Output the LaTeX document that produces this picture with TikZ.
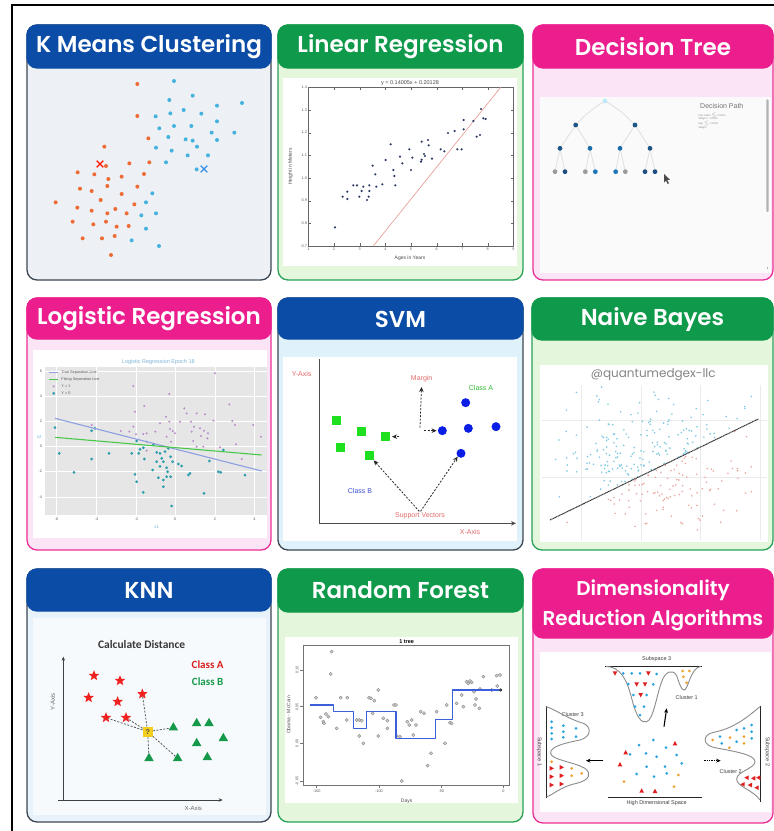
\documentclass[tikz,border=0pt]{standalone}
\usepackage{fontspec}
\setmainfont{Liberation Sans}
% heading face: a semibold cut of Poppins where one is installed
\IfFontExistsTF{Poppins SemiBold}{\newfontfamily\headfont{Poppins SemiBold}\def\headwt{}\def\headsz{23}}{%
  \IfFontExistsTF{Poppins Medium}{\newfontfamily\headfont{Poppins Medium}\def\headwt{}\def\headsz{23}}{%
    \newfontfamily\headfont{Poppins}\def\headwt{\bfseries}\def\headsz{22}}}
\newfontfamily\markfont{Poppins}
\newfontfamily\calfont{Carlito}
\usetikzlibrary{arrows.meta,shapes.geometric}

% header / frame colours
\definecolor{hblue}{HTML}{0B4CA6}
\definecolor{hgreen}{HTML}{0F9A4B}
\definecolor{hpink}{HTML}{EC1E8E}
\definecolor{bline}{HTML}{3D4753}
\definecolor{gline}{HTML}{27A257}
\definecolor{pline}{HTML}{EC2F96}
\definecolor{kbody}{HTML}{EDF1F5}
\definecolor{sbody}{HTML}{DFF1FA}
\definecolor{nbody}{HTML}{E8F2FA}
\definecolor{gbody}{HTML}{E4F7DC}
\definecolor{pbody}{HTML}{FBE4F6}
% plot colours
\definecolor{kmorange}{HTML}{EE6B35}
\definecolor{kmcyan}{HTML}{45B3DE}
\definecolor{lrdot}{HTML}{2B3A67}
\definecolor{lrline}{HTML}{E8A29C}
\definecolor{dtdark}{HTML}{1F4F7E}
\definecolor{dtmid}{HTML}{1A76B8}
\definecolor{dtgray}{HTML}{9A9A9A}
\definecolor{lgbg}{HTML}{E6E6E6}
\definecolor{lgtrue}{HTML}{8C9FE0}
\definecolor{lgfit}{HTML}{48C848}
\definecolor{lgpurple}{HTML}{B98BCB}
\definecolor{lgteal}{HTML}{2A9DAA}
\definecolor{lgtitle}{HTML}{7DB3D8}
\definecolor{svmred}{HTML}{E46A6A}
\definecolor{svmgreen}{HTML}{2EB82E}
\definecolor{svmblue}{HTML}{3A4FD0}
\definecolor{sqgreen}{HTML}{1FE01F}
\definecolor{cblue}{HTML}{0A1EE6}
\definecolor{nbblue}{HTML}{7CC8E2}
\definecolor{nbred}{HTML}{EBA8A0}
\definecolor{knnred}{HTML}{F0211F}
\definecolor{knngreen}{HTML}{16994A}
\definecolor{knnq}{HTML}{F2CF1F}
\definecolor{rfblue}{HTML}{3A5FD9}
\definecolor{drblue}{HTML}{2BA3E0}
\definecolor{drorange}{HTML}{F0A030}
\definecolor{drred}{HTML}{E02020}

\tikzset{
  zoomed/.style={x=0.33333pt,y=-0.33333pt},
  cardbody/.style={rounded corners=10pt,line width=1.3pt},
  cardhead/.style={rounded corners=10pt,line width=1.3pt},
  cardtitle/.style={text=white,font=\headfont\headwt\fontsize{\headsz}{30}\selectfont,inner sep=0pt},
  ticklbl/.style={font=\fontsize{3.8}{4}\selectfont,text=black!65,inner sep=0.6pt},
  smalllbl/.style={font=\fontsize{5}{6}\selectfont,text=black!70,inner sep=0.5pt},
  svmlbl/.style={font=\fontsize{7}{8}\selectfont,inner sep=0.5pt},
  svarrow/.style={black!85,line width=0.8pt,dash pattern=on 2pt off 1.5pt,-{Stealth[length=5pt,width=4.5pt]}},
  sqB/.style={rectangle,fill=sqgreen,minimum size=9pt,inner sep=0pt},
  cA/.style={circle,fill=cblue,minimum size=9pt,inner sep=0pt},
  knnstar/.style={star,star points=5,star point ratio=2.3,minimum size=11pt,fill=knnred,inner sep=0pt},
  knntri/.style={regular polygon,regular polygon sides=3,minimum size=11pt,fill=knngreen,inner sep=0pt},
  knnaxis/.style={black!75,line width=0.9pt},
  drlbl/.style={font=\fontsize{5.5}{6}\selectfont,text=black!75,inner sep=0.5pt},
  drcurve/.style={black!45,line width=0.9pt},
}

% card: x1, y1, x2, y2, header bottom, header colour, body colour, outline colour
\newcommand\mlcard[8]{%
  \draw[cardbody,fill=#7,draw=#8] (#1,#2) rectangle (#3,#4);
  \filldraw[cardhead,fill=#6,draw=#6] (#1,#2) rectangle (#3,#5);
}

\begin{document}
\begin{tikzpicture}[x=1pt,y=-1pt]
\useasboundingbox (0,0) rectangle (774,831);
\fill[white] (0,0) rectangle (774,831);
\draw[line width=2pt] (11.5,831) -- (11.5,5) -- (774,5);

% ---------------- cards ----------------
\mlcard{27}{25}{271}{280}{68}{hblue}{kbody}{bline}
\node[cardtitle] (tkm) at (149,47) {K Means Clustering};
\mlcard{278}{25}{523}{280}{68}{hgreen}{gbody}{gline}
\node[cardtitle] (tlr) at (400.5,47) {Linear Regression};
\mlcard{533}{25}{773}{280}{68}{hpink}{pbody}{pline}
\node[cardtitle] (tdt) at (653,47) {Decision Tree};

\mlcard{27}{298}{271}{550}{339}{hpink}{pbody}{pline}
\node[cardtitle] (tlg) at (149,319) {Logistic Regression};
\mlcard{278}{298}{523}{550}{339}{hblue}{sbody}{bline}
\node[cardtitle] (tsvm) at (400.5,319) {SVM};
\mlcard{532}{298}{773}{550}{340}{hgreen}{gbody}{gline}
\node[cardtitle] (tnb) at (652.5,319) {Naive Bayes};

\mlcard{27}{569}{271}{822}{611}{hblue}{nbody}{bline}
\node[cardtitle] (tknn) at (149,590) {KNN};
\mlcard{278}{569}{523}{822}{612}{hgreen}{gbody}{gline}
\node[cardtitle] (trf) at (400.5,590) {Random Forest};
\mlcard{533}{569}{773}{823}{638}{hpink}{pbody}{pline}
\node[cardtitle,align=center,font=\headfont\headwt\fontsize{20}{30}\selectfont] (tdr) at (653,605) {Dimensionality\\Reduction Algorithms};

% inner plot areas
\fill[white] (283,78) rectangle (517,266);
\fill[black!2] (540,97) rectangle (771,273);
\fill[white] (33,350) rectangle (267,538);
\fill[white] (283,357) rectangle (517,541);
\fill[white] (540,365) rectangle (768,542);
\fill[white!60!nbody] (33,618) rectangle (266,815);
\fill[white] (285,637) rectangle (518,803);
\fill[white] (540,652) rectangle (771,812);

% ---------------- K means ----------------
\begin{scope}[zoomed]
\foreach \x/\y in {412/252,412/348,445/415,313/440,388/490,448/487,318/498,233/517,283/523,325/537,365/530,432/522,240/566,275/573,322/558,412/560,365/582,302/600,167/607,232/623,275/632,322/640,346/627,380/640,403/613,218/665,280/673,318/665,350/680,386/678,248/715,306/715,344/708,333/765}
  \fill[kmorange] (\x,\y) circle (2pt);
\foreach \x/\y in {522/243,508/300,578/287,726/309,651/317,551/330,511/340,467/349,604/341,478/385,522/378,574/378,651/364,635/398,703/398,505/411,557/418,578/422,651/420,468/443,515/452,591/440,563/466,624/466,498/487,590/508,457/580,438/607,468/640,424/646,438/686,395/721,477/738}
  \fill[kmcyan] (\x,\y) circle (2pt);
\draw[red!85!orange,line width=1.3pt] (290,482)--(310,502) (290,502)--(310,482);
\draw[kmcyan!80!blue,line width=1.3pt] (602,497)--(622,517) (602,517)--(622,497);
\end{scope}

% ---------------- linear regression ----------------
\begin{scope}[shift={(270,0)},zoomed]
\draw[black!60,line width=0.4pt] (115,262) rectangle (730,738);
\foreach \v/\yy in {0.7/738,0.8/670,0.9/602,1.0/534,1.1/466,1.2/398,1.3/330,1.4/262}{
  \draw[black!60,line width=0.3pt] (115,\yy) -- ++(8,0) (730,\yy) -- ++(-8,0);
  \node[ticklbl,anchor=east] at (113,\yy) {\v};}
\foreach \v/\xx in {1/115,2/192,3/269,4/346,5/423,6/500,7/577,8/653,9/730}{
  \draw[black!60,line width=0.3pt] (\xx,738) -- ++(0,-8) (\xx,262) -- ++(0,8);
  \node[ticklbl,anchor=north] at (\xx,742) {\v};}
\draw[lrline,line width=0.7pt] (310,738) -- (692,262);
\foreach \x/\y in {195/682,218/590,232/575,232/597,250/556,261/556,268/590,275/573,280/560,291/600,296/590,298/556,298/573,308/497,316/523,319/560,337/553,347/480,362/433,370/510,373/528,376/556,390/470,397/490,418/448,423/510,427/473,453/485,455/479,455/425,462/462,465/468,474/420,476/436,486/476,512/448,523/454,534/399,554/393,562/448,575/448,581/360,581/388,610/363,620/410,630/405,633/327,640/355,647/357}
  \fill[lrdot] (\x,\y) circle (1.2pt);
\node[font=\fontsize{5.5}{6}\selectfont,text=black!70] (lrtitle) at (420,249) {y = 0.14005x + 0.20128};
\node[smalllbl] (lrx) at (420,775) {Ages in Years};
\node[smalllbl,rotate=90] (lry) at (62,500) {Height in Meters};
\end{scope}

% ---------------- decision tree ----------------
\begin{scope}[shift={(520,0)},zoomed]
\coordinate (r) at (255,303);
\coordinate (a) at (167,375); \coordinate (b) at (345,375);
\coordinate (c) at (120,445); \coordinate (d) at (210,445);
\coordinate (e) at (300,445); \coordinate (f) at (390,445);
\draw[black!12,line width=0.8pt] (r) to[bend right=8] (a) (r) to[bend left=8] (b)
  (a) -- (c) (a) -- (d) (b) -- (e) (b) -- (f)
  (c) -- (105,515) (c) -- (135,515) (d) -- (196,515) (d) -- (226,515)
  (e) -- (287,515) (e) -- (316,515) (f) -- (375,515) (f) -- (405,515);
\fill[cyan!25] (r) circle (2.4pt);
\foreach \p in {a,b,c,f} \fill[dtdark!85!dtmid] (\p) circle (2.4pt);
\foreach \p in {d,e} \fill[dtmid!80!dtdark] (\p) circle (2.4pt);
\foreach \x in {105,196,316} \fill[dtgray] (\x,515) circle (2.4pt);
\foreach \x in {135,375,405} \fill[dtdark] (\x,515) circle (2.4pt);
\foreach \x in {226,287} \fill[dtmid] (\x,515) circle (2.4pt);
\fill[black!70] (432,522) -- (432,548) -- (438,542) -- (443,552) -- (447,550) -- (442,540) -- (450,539) -- cycle;
\node[font=\fontsize{7}{8}\selectfont,text=black!55,anchor=west] (dpath) at (530,318) {Decision Path};
\node[font=\fontsize{2.6}{3.3}\selectfont,text=black!45,anchor=north west,align=left,inner sep=0pt] (dinfo) at (535,338)
  {Has Cabin $\le$ 0.5000\\Weight = 1.0000\\Age $\le$ 2.5000\\Weight};
\fill[black!30,rounded corners=1pt] (739,298) rectangle (746,636);
\fill[black!30] (741,800) rectangle (744,808);
\end{scope}

% ---------------- logistic regression ----------------
\begin{scope}[shift={(0,285)},zoomed]
\fill[lgbg] (135,245) rectangle (800,690);
\foreach \xx in {170,290,410,525,645,763} \draw[white,line width=0.4pt] (\xx,245) -- (\xx,690);
\foreach \yy in {258,335,410,485,560,637} \draw[white,line width=0.4pt] (135,\yy) -- (800,\yy);
\foreach \v/\yy in {6/258,4/335,2/410,0/485,-2/560,-4/637}
  \node[ticklbl,anchor=east] at (128,\yy) {\v};
\foreach \v/\xx in {-6/170,-4/290,-2/410,0/525,2/645,4/763}
  \node[ticklbl,anchor=north] at (\xx,697) {\v};
\node[font=\fontsize{5.5}{6}\selectfont,text=lgtitle] (lgtitle) at (475,232) {Logistic Regression Epoch 18};
\node[font=\fontsize{4.5}{5}\selectfont,text=lgtitle] (lgx) at (470,726) {x1};
\node[font=\fontsize{4.5}{5}\selectfont,text=lgtitle] (lgy) at (118,455) {x2};
\foreach \x/\y in {400/303,508/327,645/265,405/380,433/363,553/370,560/385,590/385,615/388,688/358,498/395,508/410,540/410,573/410,640/407,697/408,705/420,760/420,275/420,400/425,480/415,510/432,518/438,582/425,612/437,624/445,362/438,388/440,408/448,430/447,440/445,466/440,500/455,525/445,603/453,622/460,783/455,440/470,460/478,513/470,580/468,590/485,610/485,660/487,708/478,725/522,440/497,575/440,600/430}
  \fill[lgpurple] (\x,\y) circle (1.1pt);
\foreach \x/\y in {165/428,178/505,275/437,285/430,222/562,275/522,327/505,395/505,410/468,420/493,430/488,416/505,433/522,460/480,470/502,480/505,495/500,505/490,470/530,485/520,490/530,500/548,503/560,500/575,512/515,518/530,535/537,545/543,570/565,565/570,405/568,410/590,475/578,490/585,512/575,490/605,430/622,515/663,612/625,628/528,655/560,662/562,735/570,480/544,458/555,670/495}
  \fill[lgteal] (\x,\y) circle (1.5pt);
\draw[lgtrue,line width=1.1pt] (165,400) -- (785,558);
\draw[lgfit,line width=1.1pt] (165,457) -- (785,510);
\draw[lgtrue,line width=0.8pt] (148,262) -- (175,262);
\draw[lgfit,line width=0.8pt] (148,283) -- (175,283);
\fill[lgpurple] (161,304) circle (1.1pt);
\fill[lgteal] (161,325) circle (1.5pt);
\node[ticklbl,anchor=west] (lg1) at (182,262) {True Separation Line};
\node[ticklbl,anchor=west] (lg2) at (182,283) {Fitting Separation Line};
\node[ticklbl,anchor=west] (lg3) at (182,304) {Y = 1};
\node[ticklbl,anchor=west] (lg4) at (182,325) {Y = 0};
\end{scope}

% ---------------- SVM ----------------
\begin{scope}[shift={(270,285)},zoomed]
\draw[black!70,line width=0.9pt] (148,222) -- (148,715);
\draw[black!70,line width=0.9pt,-{Stealth[length=5pt,width=4.5pt]}] (148,715) -- (738,715);
\node[svmlbl,text=svmred] (yax) at (95,268) {Y-Axis};
\node[svmlbl,text=svmred] (xax) at (600,740) {X-Axis};
\node[svmlbl,text=svmred] (mg) at (455,282) {Margin};
\node[svmlbl,text=svmgreen] (ca) at (633,308) {Class A};
\node[svmlbl,text=svmblue] (cb) at (270,617) {Class B};
\node[svmlbl,text=svmred] (sv) at (450,693) {Support Vectors};
\node[sqB] (q1) at (200,405) {};
\node[sqB] (q2) at (275,440) {};
\node[sqB] (q3) at (210,486) {};
\node[sqB] (q4) at (346,455) {};
\node[sqB] (q5) at (297,512) {};
\node[cA] (c1) at (587,353) {};
\node[cA] (c2) at (517,437) {};
\node[cA] (c3) at (595,430) {};
\node[cA] (c4) at (678,425) {};
\node[cA] (c5) at (573,505) {};
\coordinate (mbase) at (450,428);
\coordinate (mright) at (463,437);
\coordinate (mleft) at (388,455);
\draw[svarrow,shorten >=4pt] (mbase) -- (mg.south);
\draw[svarrow,shorten >=1pt] (mright) -- (c2.west);
\draw[svarrow,shorten >=2pt] (mleft) -- (q4.east);
\draw[svarrow,shorten <=1pt] (sv.north) -- (q5.south east);
\draw[svarrow,shorten <=1pt] (sv.north) -- (c5.south west);
\end{scope}

% ---------------- naive Bayes ----------------
\begin{scope}[shift={(520,285)},zoomed]
\foreach \xx in {185,365,540,720} \draw[black!8,line width=0.5pt] (\xx,300) -- (\xx,765);
\foreach \yy in {405,578} \draw[black!8,line width=0.5pt] (65,\yy) -- (742,\yy);
\pgfmathsetseed{2718}
\foreach \i in {1,...,300}{
  \pgfmathsetmacro{\px}{85+640*(rnd+rnd)/2}
  \pgfmathsetmacro{\py}{300+460*(rnd+rnd)/2}
  \pgfmathsetmacro{\ly}{705-0.485*(\px-90)}
  \pgfmathsetmacro{\side}{\py<\ly ? 1 : 0}
  \ifdim\side pt>0.5pt
    \fill[nbblue] (\px,\py) circle (0.9pt);
  \else
    \fill[nbred] (\px,\py) circle (0.9pt);
  \fi
}
\draw[black!80,line width=1pt,dash pattern=on 1.2pt off 0.5pt] (90,705) -- (715,402);
\node[font=\markfont\fontsize{12}{14}\selectfont,text=black!48] (wm) at (400,268) {@quantumedgex-llc};
\end{scope}

% ---------------- KNN ----------------
\begin{scope}[shift={(0,555)},zoomed]
\node[font=\calfont\bfseries\fontsize{11.5}{13}\selectfont,text=black!78] (calc) at (425,268) {Calculate Distance};
\node[font=\calfont\bfseries\fontsize{11}{12}\selectfont,text=knnred!90!black] (kca) at (623,330) {Class A};
\node[font=\calfont\bfseries\fontsize{11}{12}\selectfont,text=knngreen] (kcb) at (623,380) {Class B};
\draw[knnaxis,-{Stealth[length=4pt,width=3.5pt]}] (190,735) -- (190,305);
\draw[knnaxis,-{Stealth[length=4pt,width=3.5pt]}] (175,735) -- (668,735);
\node[font=\fontsize{6}{7}\selectfont,text=black!60,rotate=90] (kya) at (158,440) {Y-Axis};
\node[font=\fontsize{6}{7}\selectfont,text=black!60] (kxa) at (580,760) {X-Axis};
\node[knnstar] (s1) at (282,362) {};
\node[knnstar] (s2) at (360,377) {};
\node[knnstar] (s3) at (266,428) {};
\node[knnstar] (s4) at (353,440) {};
\node[knnstar] (s5) at (427,417) {};
\node[knnstar] (s6) at (318,488) {};
\node[knnstar] (s7) at (378,488) {};
\node[knntri] (t1) at (520,518) {};
\node[knntri] (t2) at (590,505) {};
\node[knntri] (t3) at (627,505) {};
\node[knntri] (t4) at (670,550) {};
\node[knntri] (t5) at (590,565) {};
\node[knntri] (t6) at (447,610) {};
\node[knntri] (t7) at (533,610) {};
\node[knntri] (t8) at (622,607) {};
\node[fill=knnq,minimum size=10pt,inner sep=0pt,font=\bfseries\fontsize{7}{8}\selectfont,text=black!70] (qq) at (443,530) {?};
\foreach \t in {s5,s6,s7,t1,t6,t7}
  \draw[black!65,line width=0.8pt,dash pattern=on 2pt off 1.5pt] (qq) -- (\t);
\end{scope}

% ---------------- random forest ----------------
\begin{scope}[shift={(270,555)},zoomed]
\draw[black!55,line width=0.5pt] (100,272) rectangle (718,690);
\foreach \v/\xx in {-150/140,-100/327,-50/514,0/700}{
  \draw[black!55,line width=0.4pt] (\xx,690) -- ++(0,9);
  \node[ticklbl,anchor=north] at (\xx,703) {\v};}
\foreach \v/\yy in {0.10/345,0.05/455,0.00/565,-0.05/678}{
  \draw[black!55,line width=0.4pt] (100,\yy) -- ++(-9,0);
  \node[ticklbl,rotate=90,anchor=south] at (88,\yy) {\v};}
\node[font=\bfseries\fontsize{5.5}{6}\selectfont] (rft) at (410,260) {1 tree};
\node[smalllbl] (rfx) at (410,740) {Days};
\node[smalllbl,rotate=90] (rfy) at (56,480) {Obama - McCain};
\foreach \x/\y in {138/428,185/290,182/357,152/487,160/500,162/505,168/477,175/485,200/520,212/428,232/428,230/495,260/495,268/495,275/497,268/543,280/565,297/428,303/430,313/437,308/475,325/405,325/543,340/490,352/497,352/520,372/450,378/450,380/543,390/545,395/678,412/500,418/510,425/495,430/540,438/510,452/470,462/475,483/595,473/632,500/470,525/565,530/450,540/503,545/505,560/445,575/420,580/455,590/380,595/385,600/378,605/382,612/410,615/450,618/432,628/460,630/402,640/365,665/405,680/362,690/360,682/393}
  \filldraw[draw=black!50,fill=black!18,line width=0.35pt] (\x,\y) circle (1.6pt);
\draw[rfblue,line width=1.5pt,line join=round] (120,450) -- (190,450) -- (190,470) -- (250,470) -- (250,520) -- (290,520) -- (290,470) -- (378,470) -- (378,550) -- (497,550) -- (497,493) -- (548,493) -- (548,405) -- (695,405);
\fill[black!75] (692,405) circle (1.8pt);
\end{scope}

% ---------------- dimensionality reduction ----------------
\begin{scope}[shift={(520,555)},zoomed]
\node[drlbl] (ss3) at (410,312) {Subspace 3};
\draw[black!85,line width=1pt] (255,333) -- (545,333);
\draw[drcurve] (258,334) .. controls (300,336) and (320,370) .. (335,430)
  .. controls (350,490) and (365,505) .. (380,500)
  .. controls (400,495) and (410,420) .. (425,380)
  .. controls (435,350) and (458,340) .. (470,362)
  .. controls (480,390) and (484,405) .. (492,405)
  .. controls (505,405) and (510,340) .. (542,334);
\node[drlbl] (cl1) at (500,428) {Cluster 1};
\node[drlbl] (cl3) at (158,478) {Cluster 3};
\node[drlbl] (cl2) at (632,650) {Cluster 2};
\node[drlbl,rotate=-90] (ss1) at (58,590) {Subspace 1};
\node[drlbl,rotate=-90] (ss2) at (742,590) {Subspace 2};
\node[drlbl] (hds) at (410,743) {High Dimensional Space};
\draw[black!85,line width=1pt] (78,452) -- (78,728);
\draw[black!85,line width=1pt] (720,452) -- (720,740);
\draw[black!85,line width=1pt] (265,727) -- (545,727);
\draw[drcurve] (78,455) .. controls (100,460) and (140,490) .. (190,505)
  .. controls (215,515) and (215,545) .. (180,555)
  .. controls (130,565) and (90,575) .. (92,595)
  .. controls (95,615) and (160,620) .. (195,640)
  .. controls (215,655) and (210,675) .. (170,685)
  .. controls (120,695) and (100,720) .. (80,725);
\draw[drcurve] (720,455) .. controls (700,470) and (650,520) .. (580,532)
  .. controls (545,540) and (548,572) .. (585,578)
  .. controls (650,590) and (705,600) .. (705,620)
  .. controls (705,640) and (650,650) .. (650,672)
  .. controls (650,695) and (700,705) .. (720,735);
\draw[black,line width=1.1pt,-{Stealth[length=4.5pt,width=4pt]}] (432,515) -- (440,460);
\draw[black,line width=1.1pt,-{Stealth[length=4.5pt,width=4pt]}] (250,617) -- (198,617);
\draw[black,line width=1.1pt,dash pattern=on 1.5pt off 0.8pt,-{Stealth[length=4.5pt,width=4pt]}] (553,617) -- (602,617);
% blue points
\foreach \x/\y in {310/355,335/355,360/355,410/357,325/387,400/388,340/420,380/420,345/455,372/455,360/480,
  95/500,95/518,95/535,95/552,130/512,130/530,130/547,168/520,168/545,
  600/545,650/525,672/520,695/510,695/530,695/550,650/560,605/565,
  400/555,357/570,438/578,378/595,410/605,470/600,330/598,380/635,350/657,435/635,485/625,402/665,440/655}
  \fill[drblue] (\x,\y) circle (1.5pt);
% orange points
\foreach \x/\y in {488/348,508/348,490/365,500/383,
  95/620,155/640,155/662,185/655,
  578/555,630/548,672/545,672/565,628/578,
  475/660,312/680,462/695}
  \fill[drorange] (\x,\y) circle (1.5pt);
% red triangles: pointing down, right, left and up
\foreach \x/\y in {285/355,385/355,350/388,375/388,362/420}
  \fill[drred] (\x,\y) ++(0,7) -- ++(7,-13) -- ++(-14,0) -- cycle;
\foreach \x/\y in {95/640,95/665,95/690,125/637,125/662,125/687}
  \fill[drred] (\x,\y) ++(7,0) -- ++(-13,7) -- ++(0,-14) -- cycle;
\foreach \x/\y in {680/668,700/670,715/668,668/688,690/690,710/698}
  \fill[drred] (\x,\y) ++(-7,0) -- ++(13,7) -- ++(0,-14) -- cycle;
\foreach \x/\y in {317/592,300/628,465/565,365/707,405/708}
  \fill[drred] (\x,\y) ++(0,-7) -- ++(7,13) -- ++(-14,0) -- cycle;
\end{scope}
\end{tikzpicture}
\end{document}
